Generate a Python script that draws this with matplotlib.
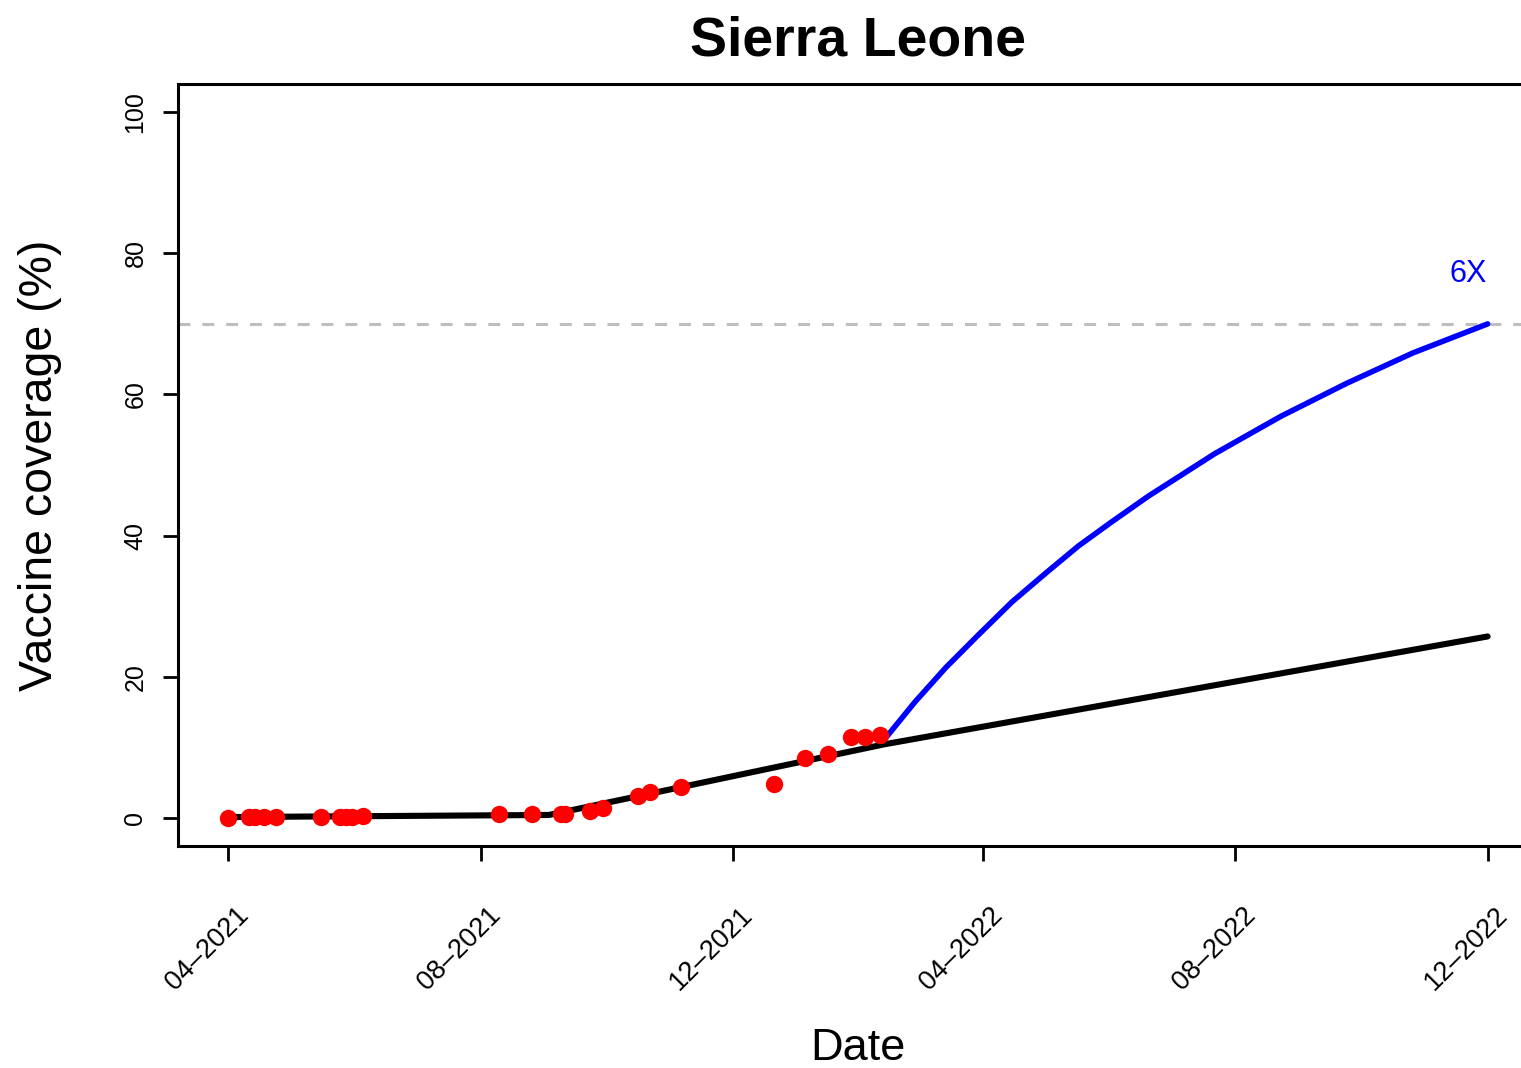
import datetime as dt
import matplotlib
matplotlib.use("Agg")
import matplotlib.pyplot as plt
import matplotlib.dates as mdates
from matplotlib.transforms import ScaledTranslation, blended_transform_factory

plt.rcParams['font.family'] = ['Liberation Sans', 'DejaVu Sans']

D = dt.date

# Observed coverage (%)
obs_dates = [D(2021, 4, 1), D(2021, 4, 11), D(2021, 4, 14), D(2021, 4, 18), D(2021, 4, 24),
             D(2021, 5, 16), D(2021, 5, 25), D(2021, 5, 28), D(2021, 5, 31), D(2021, 6, 5),
             D(2021, 8, 10), D(2021, 8, 26), D(2021, 9, 9), D(2021, 9, 11), D(2021, 9, 23),
             D(2021, 9, 29), D(2021, 10, 16), D(2021, 10, 22), D(2021, 11, 6), D(2021, 12, 21),
             D(2022, 1, 5), D(2022, 1, 16), D(2022, 1, 27), D(2022, 2, 3), D(2022, 2, 10)]
obs_values = [0.0, 0.05, 0.05, 0.08, 0.1,
              0.12, 0.15, 0.15, 0.18, 0.2,
              0.5, 0.55, 0.6, 0.6, 0.9,
              1.4, 3.1, 3.7, 4.4, 4.8,
              8.5, 9.1, 11.5, 11.5, 11.8]

# Fitted trend and its continuation at the current pace
trend_dates = [D(2021, 4, 1), D(2021, 9, 3), D(2022, 2, 12), D(2022, 12, 1)]
trend_values = [0.1, 0.4, 10.4, 25.7]

# Accelerated scenario (6X)
scen_dates = [D(2022, 2, 12), D(2022, 2, 27), D(2022, 3, 14), D(2022, 3, 30), D(2022, 4, 15),
              D(2022, 5, 1), D(2022, 5, 17), D(2022, 6, 2), D(2022, 6, 20), D(2022, 7, 22),
              D(2022, 8, 23), D(2022, 9, 24), D(2022, 10, 26), D(2022, 12, 1)]
scen_values = [11.0, 16.4, 21.3, 26.0, 30.6,
               34.6, 38.5, 41.9, 45.6, 51.6,
               56.9, 61.6, 65.9, 70.0]
scen_label = "6X"

target = 70

tick_dates = [D(2021, 4, 1), D(2021, 8, 1), D(2021, 12, 1), D(2022, 4, 1), D(2022, 8, 1), D(2022, 12, 1)]
tick_labels = ["04\u20132021", "08\u20132021", "12\u20132021", "04\u20132022", "08\u20132022", "12\u20132022"]
y_ticks = [0, 20, 40, 60, 80, 100]

W, H = 1521, 1068
fig = plt.figure(figsize=(W / 100, H / 100), dpi=100)
ax = fig.add_axes([178 / W, (H - 846) / H, 1360 / W, 762 / H])

# data
ax.axhline(target, color="#BEBEBE", lw=2.2, dashes=(3.9, 3.9), zorder=1)
ax.plot(trend_dates, trend_values, color="black", lw=4.4, solid_capstyle="round",
        solid_joinstyle="round", zorder=2)
ax.plot(scen_dates, scen_values, color="#0000FF", lw=4.0, solid_capstyle="round",
        solid_joinstyle="round", zorder=2)
ax.plot(obs_dates, obs_values, "o", color="#FF0000", ms=12.5, mec="none", zorder=3)

ax.annotate(scen_label, xy=(mdates.date2num(scen_dates[-1]), scen_values[-1]),
            xytext=(-19, 42), textcoords="offset pixels", ha="center", va="baseline",
            color="#0000FF", fontsize=22)

# axes ranges (4% padding on both axes)
x0 = mdates.date2num(tick_dates[0])
x1 = mdates.date2num(tick_dates[-1])
pad = 0.04 * (x1 - x0)
ax.set_xlim(x0 - pad, x1 + pad)
ax.set_ylim(-4, 104)

for s in ax.spines.values():
    s.set_linewidth(2.2)

ax.set_xticks([mdates.date2num(d) for d in tick_dates])
ax.set_xticklabels([])
ax.tick_params(axis="x", length=11, width=2)
ax.set_yticks(y_ticks)
ax.set_yticklabels([str(v) for v in y_ticks], rotation=90, va="center", fontsize=18)
ax.tick_params(axis="y", length=11, width=2, pad=11)

# rotated date labels below the axis
trans = blended_transform_factory(ax.transData, fig.transFigure) + \
    ScaledTranslation(16 / 100, 0, fig.dpi_scale_trans)
for d, lab in zip(tick_dates, tick_labels):
    ax.text(mdates.date2num(d), (H - 911) / H, lab, transform=trans, rotation=45,
            rotation_mode="anchor", ha="right", va="center", fontsize=19.5, clip_on=False)

fig.text(858 / W, (H - 56) / H, "Sierra Leone", ha="center", va="baseline",
         fontsize=40, fontweight="bold")
fig.text(858 / W, (H - 1060) / H, "Date", ha="center", va="baseline", fontsize=32.5)
fig.text(40 / W, (H - 465) / H, "Vaccine coverage (%)", ha="center", va="center",
         rotation=90, fontsize=33.5)

fig.savefig("out.png", dpi=100)
